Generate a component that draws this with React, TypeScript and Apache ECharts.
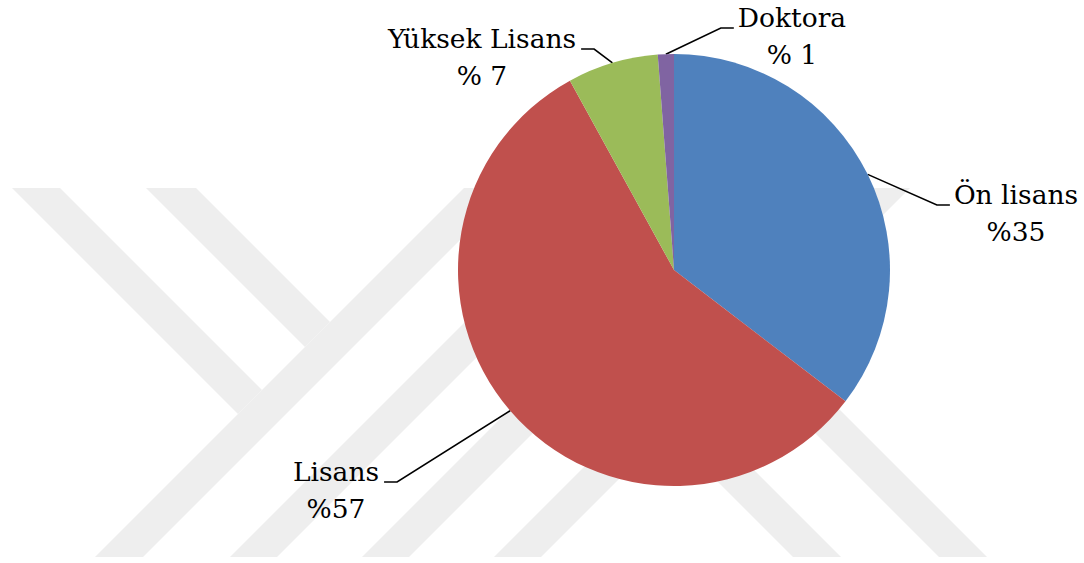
import React, { useEffect, useRef } from "react";
import * as echarts from "echarts";

// ---- data ----
const categories = ["Ön lisans", "Lisans", "Yüksek Lisans", "Doktora"];
const shares = [35.4, 56.6, 6.8, 1.2];
const shareLabels = ["%35", "%57", "% 7", "% 1"];
const sliceColors = ["#4F81BD", "#C0504D", "#9BBB59", "#8064A2"];

// label block centres (layout only)
const labelCenters: number[][] = [
  [1016, 213],
  [336, 490],
  [482, 57],
  [792, 36],
];

// faint background watermark (decoration)
const watermarkBands: number[][][] = [
  [[12, 188], [60, 188], [262, 390], [238, 414]],
  [[146, 188], [196, 188], [330, 322], [305, 347]],
  [[95, 557], [464, 188], [512, 188], [143, 557]],
  [[230, 557], [599, 188], [646, 188], [277, 557]],
  [[362, 557], [731, 188], [778, 188], [409, 557]],
  [[494, 557], [863, 188], [910, 188], [541, 557]],
  [[667, 431], [691, 407], [841, 557], [793, 557]],
  [[740, 358], [764, 334], [987, 557], [939, 557]],
];

const PIE_CX = 674;
const PIE_CY = 270;
const PIE_R = 216;
const SERIF = "DejaVu Serif";

export default function App() {
  const ref = useRef<HTMLDivElement>(null);

  useEffect(() => {
    if (!ref.current) return;
    const chart = echarts.init(ref.current, undefined, { renderer: "svg" });

    const data = categories.map((name, i) => ({
      name,
      value: shares[i],
      itemStyle: { color: sliceColors[i] },
    }));

    chart.setOption({
      animation: false,
      backgroundColor: "#ffffff",
      textStyle: { fontFamily: SERIF },
      graphic: {
        z: 0,
        elements: watermarkBands.map((pts) => ({
          type: "polygon",
          silent: true,
          z: 0,
          shape: { points: pts },
          style: { fill: "#eeeeee" },
        })),
      },
      series: [
        {
          type: "pie",
          z: 2,
          silent: true,
          center: [PIE_CX, PIE_CY],
          radius: [0, PIE_R],
          startAngle: 90,
          clockwise: true,
          avoidLabelOverlap: false,
          itemStyle: { borderWidth: 0 },
          label: {
            show: true,
            position: "outside",
            color: "#000000",
            fontFamily: SERIF,
            fontSize: 26.5,
            lineHeight: 37,
            formatter: (p: any) => `${p.name}\n${shareLabels[p.dataIndex]}`,
          },
          labelLine: {
            show: true,
            length: 20,
            length2: 10,
            smooth: false,
            lineStyle: { color: "#000000", width: 1.6 },
          },
          labelLayout: (p: any) => {
            const i = p.dataIndex;
            const [cx, cy] = labelCenters[i];
            const w = p.labelRect.width;
            const right = cx > PIE_CX;
            const lineY = cy - 8;
            const edge = right ? cx - w / 2 - 4 : cx + w / 2 + 5;
            const elbow = right ? edge - 13 : edge + 13;
            const a =
              p.labelLinePoints && p.labelLinePoints[0]
                ? p.labelLinePoints[0]
                : [elbow, lineY];
            return {
              x: cx,
              y: cy,
              align: "center",
              verticalAlign: "middle",
              labelLinePoints: [a, [elbow, lineY], [edge, lineY]],
            };
          },
          data,
        },
      ],
    });

    return () => {
      chart.dispose();
    };
  }, []);

  return (
    <div
      ref={ref}
      style={{
        position: "absolute",
        left: 0,
        top: 0,
        width: 1084,
        height: 563,
        background: "#ffffff",
      }}
    />
  );
}
